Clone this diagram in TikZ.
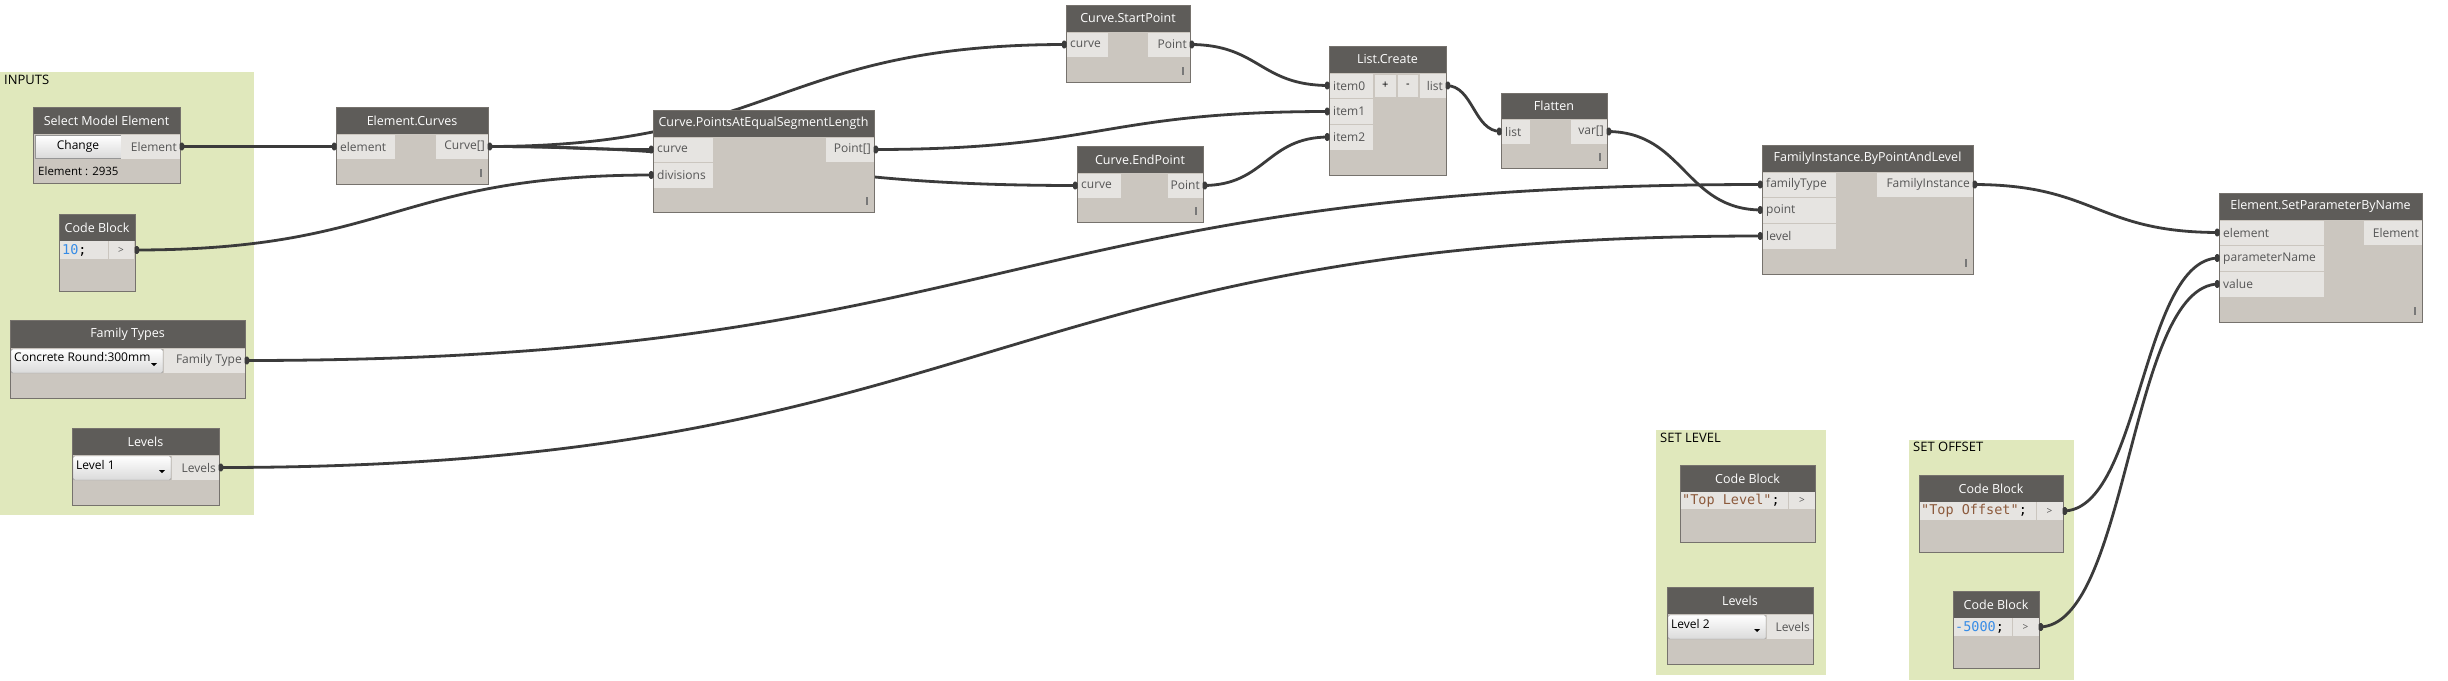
\documentclass[tikz,border=0pt]{standalone}
\usepackage{fontspec}
\setmainfont{Open Sans}
\newfontfamily\codefont{DejaVu Sans Mono}
\usetikzlibrary{calc}
\definecolor{grp}{RGB}{224,232,188}
\definecolor{hdr}{RGB}{94,92,89}
\definecolor{bdy}{RGB}{203,198,191}
\definecolor{lbl}{RGB}{230,228,225}
\definecolor{brd}{RGB}{118,114,109}
\definecolor{wirec}{RGB}{59,59,59}
\definecolor{ptxt}{RGB}{85,85,85}
\definecolor{numc}{RGB}{55,140,230}
\definecolor{strc}{RGB}{140,90,60}
\definecolor{lacec}{RGB}{120,120,120}
\definecolor{ddc}{RGB}{218,218,218}
\definecolor{ddb}{RGB}{150,150,150}
\newcommand\dynbox[7]{%
  \fill[bdy] (#2,#3) rectangle (#4,#5);
  \fill[hdr] (#2,#3) rectangle (#4,#6);
  \node[hdrtext] (#1) at ({(#2+#4)/2},{(#3+#6)/2}) {#7};
}
\newcommand\dynframe[4]{\draw[brd,line width=1pt] (#1,#2) rectangle (#3,#4);}
\newcommand\inlab[6]{%
  \fill[lbl] (#2,{#3+0.5}) rectangle (#4,{#5-0.5});
  \node[porttext,anchor=west] (#1) at ({#2+4},{(#3+#5)/2}) {#6};
}
\newcommand\outlab[6]{%
  \fill[lbl] (#2,{#3+0.5}) rectangle (#4,{#5-0.5});
  \node[porttext,anchor=east] (#1) at ({#4-3},{(#3+#5)/2}) {#6};
}
\newcommand\lacing[2]{\fill[lacec] ({#1-1},{#2-4}) rectangle ({#1+1},{#2+4});}
\newcommand\ddown[6]{%
  \shadedraw[top color=white,bottom color=ddc,draw=ddb,rounded corners=1.5pt] (#2,#3) rectangle (#4,#5);
  \node[blacktext,anchor=west] (#1) at ({#2+3},{#3+8.5}) {#6};
  \fill[black] ({#4-12},{#5-10}) -- ({#4-6},{#5-10}) -- ({#4-9},{#5-7}) -- cycle;
}
\newcommand\wire[2]{\draw[wire] let \p1=(#1), \p2=(#2), \n1={abs(\x2-\x1)/2} in (\p1) .. controls +(\n1,0) and +(-\n1,0) .. (\p2);}
\newcommand\omark[1]{\fill[wirec,rounded corners=1.5pt] ($(#1)+(-0.5,-3.8)$) rectangle ($(#1)+(4,3.8)$);}
\newcommand\imark[1]{\fill[wirec,rounded corners=1.5pt] ($(#1)+(0.5,-3.8)$) rectangle ($(#1)+(-4,3.8)$);}
\begin{document}
\begin{tikzpicture}[x=1pt,y=-1pt,
  hdrtext/.style={text=white,inner sep=0pt,font=\fontsize{12.5}{15}\selectfont},
  porttext/.style={text=ptxt,inner sep=0pt,font=\fontsize{12}{14}\selectfont},
  blacktext/.style={text=black,inner sep=0pt,font=\fontsize{12}{14}\selectfont},
  grptext/.style={text=black,inner sep=0pt,font=\fontsize{13}{15}\selectfont,anchor=west},
  codetext/.style={inner sep=0pt,font=\codefont\fontsize{13.5}{16}\selectfont,anchor=west},
  wire/.style={draw=wirec,line width=2.8pt},
  ]
\useasboundingbox (0,0) rectangle (2448,680);
\fill[white] (0,0) rectangle (2448,680);
% groups
\fill[grp] (0,72) rectangle (254,515);
\node[grptext] (g-in) at (4,80) {INPUTS};
\fill[grp] (1656,430) rectangle (1826,675);
\node[grptext] (g-sl) at (1660,438) {SET LEVEL};
\fill[grp] (1909,440) rectangle (2074,680);
\node[grptext] (g-so) at (1913,447) {SET OFFSET};
% port coordinates
\coordinate (sme-o) at (180,146.5);
\coordinate (ec-i) at (336,146.5);
\coordinate (ec-o) at (488,146.5);
\coordinate (cb10-o) at (135,250);
\coordinate (ft-o) at (245,360.5);
\coordinate (lv1-o) at (219,467.5);
\coordinate (pa-i1) at (653,149.5);
\coordinate (pa-i2) at (653,175);
\coordinate (pa-o) at (874,149.5);
\coordinate (sp-i) at (1066,44.5);
\coordinate (sp-o) at (1190,44.5);
\coordinate (ep-i) at (1077,185.5);
\coordinate (ep-o) at (1203,185.5);
\coordinate (lc-i0) at (1329,85.5);
\coordinate (lc-i1) at (1329,111.5);
\coordinate (lc-i2) at (1329,137);
\coordinate (lc-o) at (1446,85.5);
\coordinate (fl-i) at (1501,131.5);
\coordinate (fl-o) at (1607,131.5);
\coordinate (fi-i1) at (1762,184.5);
\coordinate (fi-i2) at (1762,210);
\coordinate (fi-i3) at (1762,236);
\coordinate (fi-o) at (1973,184.5);
\coordinate (sp2-i1) at (2219,232.5);
\coordinate (sp2-i2) at (2219,258);
\coordinate (sp2-i3) at (2219,284);
\coordinate (cbo-o) at (2063,511);
\coordinate (cbm-o) at (2039,627);
% wires
\wire{sme-o}{ec-i}
\wire{ec-o}{pa-i1}
\wire{ec-o}{sp-i}
\wire{ec-o}{ep-i}
\wire{cb10-o}{pa-i2}
\wire{pa-o}{lc-i1}
\wire{sp-o}{lc-i0}
\wire{ep-o}{lc-i2}
\wire{lc-o}{fl-i}
\wire{fl-o}{fi-i2}
\wire{ft-o}{fi-i1}
\wire{lv1-o}{fi-i3}
\wire{fi-o}{sp2-i1}
\wire{cbo-o}{sp2-i2}
\wire{cbm-o}{sp2-i3}
% Select Model Element
\dynbox{sme}{33}{107}{180}{183}{134}{Select Model Element}
\shadedraw[top color=white,bottom color=ddc,draw=ddb] (35,135.5) rectangle (121,158);
\node[blacktext] (sme-btn) at (78,146.5) {Change};
\outlab{sme-out}{121}{134}{180}{159}{Element}
\node[blacktext,anchor=west,font=\fontsize{11.5}{13}\selectfont] (sme-val) at (38,171.5) {Element : 2935};
\dynframe{33}{107}{180}{183}
% Element.Curves
\dynbox{ec}{336}{107}{488}{184}{134}{Element.Curves}
\inlab{ec-in}{336}{134}{395}{159}{element}
\outlab{ec-out}{436}{134}{488}{159}{Curve[]}
\lacing{481}{173}
\dynframe{336}{107}{488}{184}
% Code Block 10
\dynbox{cb10}{59}{214}{135}{291}{241}{Code Block}
\fill[lbl] (59,241) rectangle (107.5,259);
\node[codetext] (cb10-txt) at (62,250) {\textcolor{numc}{10};};
\fill[lbl] (108.5,241) rectangle (134,259);
\node[porttext,font=\fontsize{10}{12}\selectfont] (cb10-gt) at (121,250) {>};
\dynframe{59}{214}{135}{291}
% Family Types
\dynbox{ft}{10}{320}{245}{398}{348}{Family Types}
\ddown{ft-dd}{11}{349}{163}{373}{Concrete Round:300mm}
\outlab{ft-out}{163.5}{348}{245}{373}{Family Type}
\dynframe{10}{320}{245}{398}
% Levels 1
\dynbox{lv1}{72}{428}{219}{505}{455}{Levels}
\ddown{lv1-dd}{73}{456}{171}{480}{Level 1}
\outlab{lv1-out}{171.5}{455}{219}{480}{Levels}
\dynframe{72}{428}{219}{505}
% PointsAtEqualSegmentLength
\dynbox{pa}{653}{110}{874}{212}{137}{Curve.PointsAtEqualSegmentLength}
\inlab{pa-in1}{653}{137}{713}{162}{curve}
\inlab{pa-in2}{653}{162}{713}{188}{divisions}
\outlab{pa-out}{826}{137}{874}{162}{Point[]}
\lacing{867}{201}
\dynframe{653}{110}{874}{212}
% StartPoint
\dynbox{sp}{1066}{5}{1190}{82}{32}{Curve.StartPoint}
\inlab{sp-in}{1066}{32}{1108}{57}{curve}
\outlab{sp-out}{1148}{32}{1190}{57}{Point}
\lacing{1183}{71}
\dynframe{1066}{5}{1190}{82}
% EndPoint
\dynbox{ep}{1077}{146}{1203}{222}{173}{Curve.EndPoint}
\inlab{ep-in}{1077}{173}{1121}{198}{curve}
\outlab{ep-out}{1168}{173}{1203}{198}{Point}
\lacing{1196}{211}
\dynframe{1077}{146}{1203}{222}
% List.Create
\dynbox{lc}{1329}{46}{1446}{175}{73}{List.Create}
\inlab{lc-in0}{1329}{73}{1373}{98.5}{item0}
\inlab{lc-in1}{1329}{98.5}{1373}{124}{item1}
\inlab{lc-in2}{1329}{124}{1373}{150}{item2}
\fill[lbl] (1374.5,74.5) rectangle (1396,97);
\node[blacktext,font=\fontsize{11}{13}\selectfont] (lc-plus) at (1385.25,85.5) {+};
\fill[lbl] (1397.5,74.5) rectangle (1418,97);
\node[blacktext,font=\fontsize{11}{13}\selectfont] (lc-minus) at (1407.75,85.5) {-};
\outlab{lc-out}{1419.5}{73}{1446}{98.5}{list}
\dynframe{1329}{46}{1446}{175}
% Flatten
\dynbox{fl}{1501}{93}{1607}{168}{119}{Flatten}
\inlab{fl-in}{1501}{119}{1530}{144}{list}
\outlab{fl-out}{1571}{119}{1607}{144}{var[]}
\lacing{1600}{157}
\dynframe{1501}{93}{1607}{168}
% FamilyInstance.ByPointAndLevel
\dynbox{fi}{1762}{145}{1973}{274}{172}{FamilyInstance.ByPointAndLevel}
\inlab{fi-in1}{1762}{172}{1836}{197.5}{familyType}
\inlab{fi-in2}{1762}{197.5}{1836}{223}{point}
\inlab{fi-in3}{1762}{223}{1836}{249}{level}
\outlab{fi-out}{1877}{172}{1973}{197.5}{FamilyInstance}
\lacing{1966}{263}
\dynframe{1762}{145}{1973}{274}
% Element.SetParameterByName
\dynbox{sp2}{2219}{193}{2422}{322}{220}{Element.SetParameterByName}
\inlab{sp2-in1}{2219}{220}{2324}{245.5}{element}
\inlab{sp2-in2}{2219}{245.5}{2324}{271}{parameterName}
\inlab{sp2-in3}{2219}{271}{2324}{297}{value}
\outlab{sp2-out}{2364}{220}{2422}{245.5}{Element}
\lacing{2415}{311}
\dynframe{2219}{193}{2422}{322}
% Code Block Top Level
\dynbox{cbl}{1680}{465}{1815}{542}{492}{Code Block}
\fill[lbl] (1680,492) rectangle (1788,509);
\node[codetext] (cbl-txt) at (1682,500.5) {\textcolor{strc}{"Top Level"};};
\fill[lbl] (1789,492) rectangle (1815,509);
\node[porttext,font=\fontsize{10}{12}\selectfont] (cbl-gt) at (1802,500.5) {>};
\dynframe{1680}{465}{1815}{542}
% Levels 2
\dynbox{lv2}{1667}{587}{1813}{664}{614}{Levels}
\ddown{lv2-dd}{1668}{615}{1766}{639}{Level 2}
\outlab{lv2-out}{1766.5}{614}{1813}{639}{Levels}
\dynframe{1667}{587}{1813}{664}
% Code Block Top Offset
\dynbox{cbo}{1919}{475}{2063}{552}{502}{Code Block}
\fill[lbl] (1919,502) rectangle (2035.5,520);
\node[codetext] (cbo-txt) at (1921,511) {\textcolor{strc}{"Top Offset"};};
\fill[lbl] (2036.5,502) rectangle (2063,520);
\node[porttext,font=\fontsize{10}{12}\selectfont] (cbo-gt) at (2049.5,511) {>};
\dynframe{1919}{475}{2063}{552}
% Code Block -5000
\dynbox{cbm}{1953}{591}{2039}{668}{618}{Code Block}
\fill[lbl] (1953,618) rectangle (2011.5,636);
\node[codetext] (cbm-txt) at (1955,627) {\textcolor{numc}{-5000};};
\fill[lbl] (2012.5,618) rectangle (2039,636);
\node[porttext,font=\fontsize{10}{12}\selectfont] (cbm-gt) at (2025.5,627) {>};
\dynframe{1953}{591}{2039}{668}
% port marks
\foreach \p in {sme-o,ec-o,cb10-o,ft-o,lv1-o,pa-o,sp-o,ep-o,lc-o,fl-o,fi-o,cbo-o,cbm-o}{\omark{\p}}
\foreach \p in {ec-i,pa-i1,pa-i2,sp-i,ep-i,lc-i0,lc-i1,lc-i2,fl-i,fi-i1,fi-i2,fi-i3,sp2-i1,sp2-i2,sp2-i3}{\imark{\p}}
\end{tikzpicture}
\end{document}
